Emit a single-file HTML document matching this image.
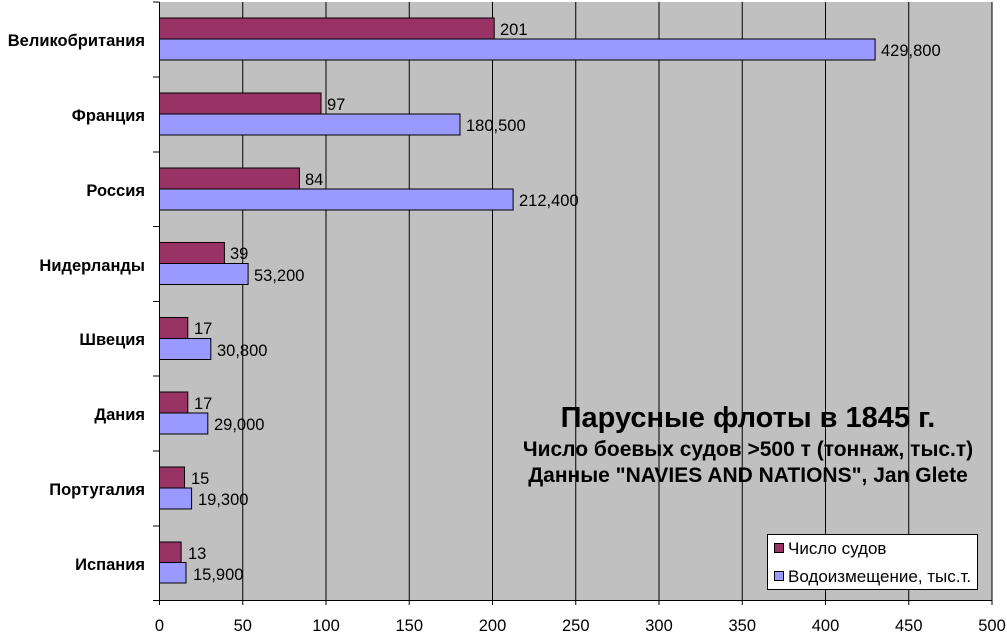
<!DOCTYPE html>
<html><head><meta charset="utf-8"><style>
body{margin:0;background:#fff;}
svg{display:block;font-family:"Liberation Sans",Arial,sans-serif;}
</style></head><body>
<svg width="1007" height="639" viewBox="0 0 1007 639" xmlns="http://www.w3.org/2000/svg">
<rect x="159.5" y="2" width="832.5" height="598" fill="#c0c0c0"/>
<g stroke="#000" stroke-width="1">
<line x1="242.75" y1="2" x2="242.75" y2="605"/>
<line x1="326" y1="2" x2="326" y2="605"/>
<line x1="409.25" y1="2" x2="409.25" y2="605"/>
<line x1="492.5" y1="2" x2="492.5" y2="605"/>
<line x1="575.75" y1="2" x2="575.75" y2="605"/>
<line x1="659" y1="2" x2="659" y2="605"/>
<line x1="742.25" y1="2" x2="742.25" y2="605"/>
<line x1="825.5" y1="2" x2="825.5" y2="605"/>
<line x1="908.75" y1="2" x2="908.75" y2="605"/>
<line x1="992" y1="2" x2="992" y2="605"/>
<line x1="159.5" y1="2" x2="159.5" y2="605"/>
<line x1="153" y1="600.5" x2="992" y2="600.5"/>
<line x1="153" y1="2" x2="159.5" y2="2"/>
<line x1="153" y1="77" x2="159.5" y2="77"/>
<line x1="153" y1="152" x2="159.5" y2="152"/>
<line x1="153" y1="226.5" x2="159.5" y2="226.5"/>
<line x1="153" y1="301.5" x2="159.5" y2="301.5"/>
<line x1="153" y1="376" x2="159.5" y2="376"/>
<line x1="153" y1="451" x2="159.5" y2="451"/>
<line x1="153" y1="526" x2="159.5" y2="526"/>
</g>
<g stroke="#000" stroke-width="1">
<rect x="159.5" y="18" width="334.7" height="21" fill="#993366"/>
<rect x="159.5" y="39" width="715.6" height="21" fill="#9999ff"/>
<rect x="159.5" y="93" width="161.5" height="21" fill="#993366"/>
<rect x="159.5" y="114" width="300.5" height="21" fill="#9999ff"/>
<rect x="159.5" y="168" width="139.9" height="21" fill="#993366"/>
<rect x="159.5" y="189" width="353.6" height="21" fill="#9999ff"/>
<rect x="159.5" y="242.5" width="64.9" height="21" fill="#993366"/>
<rect x="159.5" y="263.5" width="88.6" height="21" fill="#9999ff"/>
<rect x="159.5" y="317.5" width="28.3" height="21" fill="#993366"/>
<rect x="159.5" y="338.5" width="51.3" height="21" fill="#9999ff"/>
<rect x="159.5" y="392" width="28.3" height="21" fill="#993366"/>
<rect x="159.5" y="413" width="48.3" height="21" fill="#9999ff"/>
<rect x="159.5" y="467" width="25" height="21" fill="#993366"/>
<rect x="159.5" y="488" width="32.1" height="21" fill="#9999ff"/>
<rect x="159.5" y="542" width="21.6" height="20.5" fill="#993366"/>
<rect x="159.5" y="562.5" width="26.5" height="20.5" fill="#9999ff"/>
</g>
<g font-size="16.5" fill="#000">
<text x="500" y="35">201</text><text x="881" y="56">429,800</text>
<text x="327" y="110">97</text><text x="466" y="131">180,500</text>
<text x="305" y="185">84</text><text x="519" y="206">212,400</text>
<text x="230" y="259">39</text><text x="254" y="281">53,200</text>
<text x="194" y="334">17</text><text x="217" y="356">30,800</text>
<text x="194" y="409">17</text><text x="214" y="430">29,000</text>
<text x="191" y="484">15</text><text x="198" y="505">19,300</text>
<text x="188" y="559">13</text><text x="193" y="580">15,900</text>
</g>
<g font-size="16.5" font-weight="bold" text-anchor="end">
<text x="145" y="46">Великобритания</text>
<text x="145" y="121">Франция</text>
<text x="145" y="196">Россия</text>
<text x="145" y="271">Нидерланды</text>
<text x="145" y="345">Швеция</text>
<text x="145" y="420">Дания</text>
<text x="145" y="495">Португалия</text>
<text x="145" y="570">Испания</text>
</g>
<g font-size="16.5" text-anchor="middle">
<text x="159.5" y="631">0</text><text x="242.75" y="631">50</text><text x="326" y="631">100</text>
<text x="409.25" y="631">150</text><text x="492.5" y="631">200</text><text x="575.75" y="631">250</text>
<text x="659" y="631">300</text><text x="742.25" y="631">350</text><text x="825.5" y="631">400</text>
<text x="908.75" y="631">450</text><text x="992" y="631">500</text>
</g>
<g font-weight="bold" text-anchor="middle">
<text x="748" y="427" font-size="29">Парусные флоты в 1845 г.</text>
<text x="748" y="456" font-size="21">Число боевых судов &gt;500 т (тоннаж, тыс.т)</text>
<text x="748" y="482" font-size="21">Данные "NAVIES AND NATIONS", Jan Glete</text>
</g>
<rect x="767.5" y="534.5" width="210" height="55" fill="#fff" stroke="#000"/>
<rect x="774.5" y="543.5" width="9" height="9" fill="#993366" stroke="#000"/>
<rect x="774.5" y="571.5" width="9" height="9" fill="#9999ff" stroke="#000"/>
<g font-size="17"><text x="788" y="554">Число судов</text><text x="788" y="582">Водоизмещение, тыс.т.</text></g>
</svg>
</body></html>
